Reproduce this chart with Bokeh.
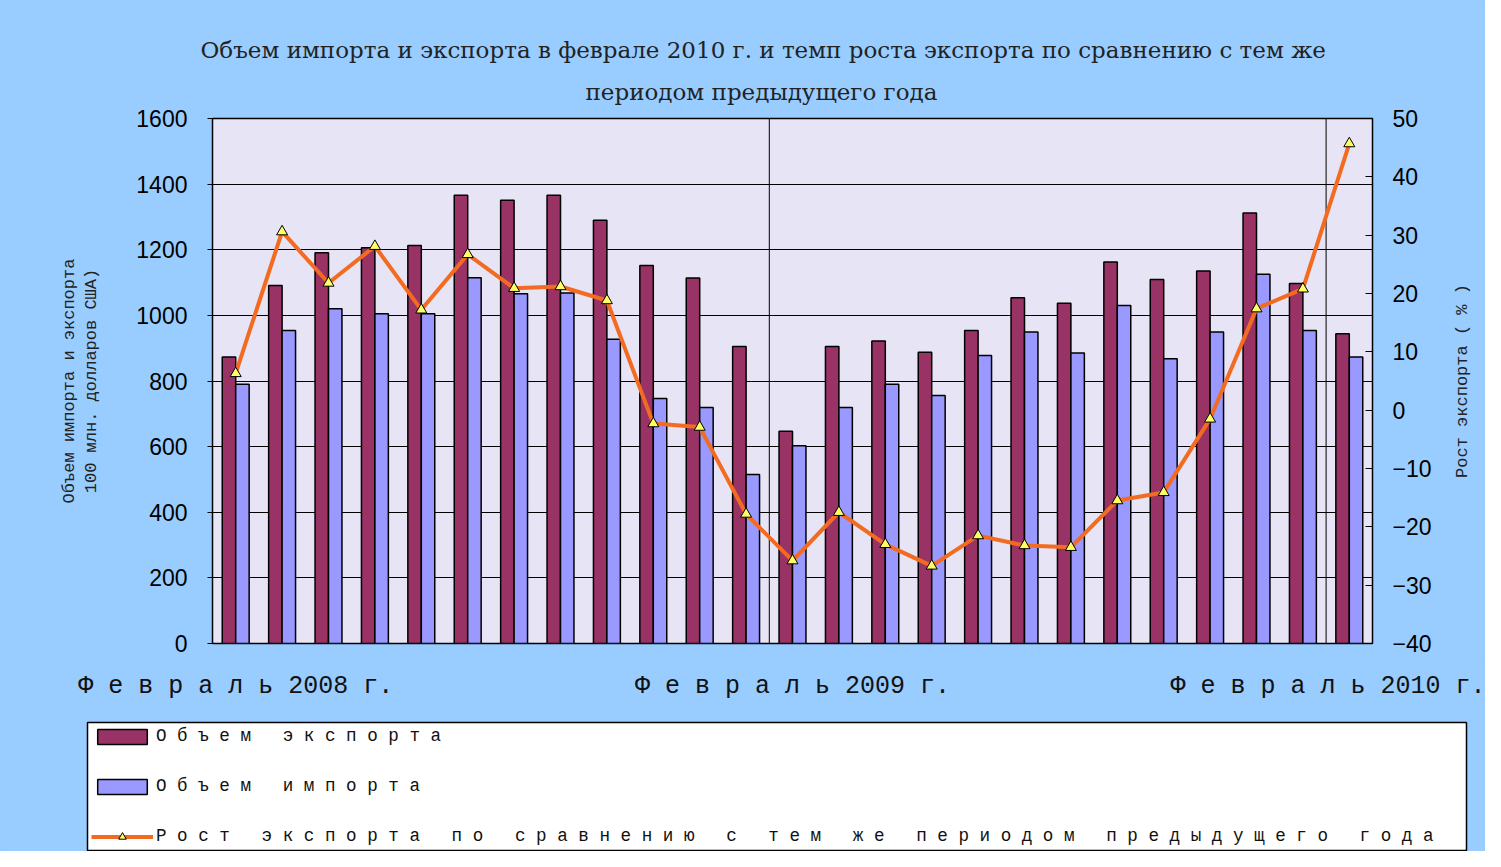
import math
from bokeh.plotting import figure
from bokeh.layouts import column, row
from bokeh.models import (ColumnDataSource, Range1d, LinearAxis, FixedTicker,
                          SingleIntervalTicker, Legend, LegendItem, Span, Title)
from bokeh.transform import dodge
from bokeh.embed import file_html
from bokeh.resources import INLINE

# ---------------- data ----------------
months = ["2008-02", "2008-03", "2008-04", "2008-05", "2008-06", "2008-07",
          "2008-08", "2008-09", "2008-10", "2008-11", "2008-12", "2009-01",
          "2009-02", "2009-03", "2009-04", "2009-05", "2009-06", "2009-07",
          "2009-08", "2009-09", "2009-10", "2009-11", "2009-12", "2010-01",
          "2010-02"]
export_vol = [873, 1091, 1191, 1206, 1213, 1366, 1351, 1366, 1290, 1152, 1114, 905,
              647, 905, 922, 888, 954, 1054, 1037, 1163, 1109, 1135, 1312, 1097, 944]
import_vol = [790, 954, 1020, 1005, 1005, 1115, 1066, 1068, 927, 747, 719, 515,
              603, 719, 790, 756, 878, 949, 885, 1030, 868, 949, 1125, 954, 873]
export_growth = [6.3, 30.6, 21.8, 28.1, 17.2, 26.7, 20.9, 21.2, 18.8, -2.3, -2.9, -17.8,
                 -25.8, -17.5, -23.0, -26.7, -21.5, -23.2, -23.5, -15.5, -14.1, -1.5,
                 17.4, 20.8, 45.7]
feb_year_labels = ["2008 г.", "2009 г.", "2010 г."]
feb_word = "Февраль"
title_lines = ["Объем импорта и экспорта в феврале 2010 г. и темп роста экспорта по сравнению с тем же",
               "периодом предыдущего года"]
left_axis_title = "Объем импорта и экспорта\n100 млн. долларов США)"
right_axis_title = "Рост экспорта ( % )"
legend_labels = ["Объем экспорта", "Объем импорта",
                 "Рост экспорта по сравнению с тем же периодом предыдущего года"]


def spaced(s):
    return "   ".join(" ".join(w) for w in s.split())


# ---------------- styles ----------------
BLUE_BG = "#99CCFF"
PLOT_BG = "#E6E4F5"
EXP_COL = "#993366"
IMP_COL = "#9999FF"
LINE_COL = "#F26B21"
MARK_COL = "#FFFF66"
MONO = "Liberation Mono"
SANS = "Liberation Sans"
SERIF = "DejaVu Serif"
BG_STYLE = {"background-color": BLUE_BG}

idx = list(range(len(months)))
src = ColumnDataSource(dict(x=idx, month=months, export=export_vol,
                            imp=import_vol, growth=export_growth))

# ---------------- main chart ----------------
p = figure(width=1445, height=657, output_backend="svg", toolbar_location=None,
           x_range=Range1d(-0.5, len(months) - 0.5), y_range=Range1d(0, 1600),
           x_axis_location=None,
           min_border_left=212, min_border_right=73, min_border_top=118,
           min_border_bottom=14, background_fill_color=PLOT_BG,
           border_fill_color=BLUE_BG, outline_line_color="black",
           outline_line_width=1.5, title_location=None)
p.extra_y_ranges = {"g": Range1d(-40, 50)}

# grid
p.xgrid.visible = False
p.ygrid.ticker = SingleIntervalTicker(interval=200)
p.ygrid.grid_line_color = "black"
p.ygrid.grid_line_width = 1

# left axis
p.yaxis.ticker = SingleIntervalTicker(interval=200)
p.yaxis.major_label_text_font = SANS
p.yaxis.major_label_text_font_size = "23px"
p.yaxis.major_label_text_color = "black"
p.yaxis.major_tick_out = 5
p.yaxis.major_tick_in = 0
p.yaxis.minor_tick_line_color = None
p.yaxis.axis_line_color = "black"
p.yaxis.major_label_standoff = 20
p.yaxis.axis_label = left_axis_title
p.yaxis.axis_label_text_font = MONO
p.yaxis.axis_label_text_font_size = "17px"
p.yaxis.axis_label_text_font_style = "normal"
p.yaxis.axis_label_text_color = "#222222"
p.yaxis.axis_label_standoff = 32

# right axis
ax2 = LinearAxis(y_range_name="g", ticker=SingleIntervalTicker(interval=10))
ax2.major_label_text_font = SANS
ax2.major_label_text_font_size = "23px"
ax2.major_label_text_color = "black"
ax2.major_tick_in = 7
ax2.major_tick_out = 0
ax2.minor_tick_line_color = None
ax2.axis_line_color = "black"
ax2.major_label_standoff = 16
p.add_layout(ax2, "right")

# year separators
feb_idx = [i for i, m in enumerate(months) if m.endswith("-02")]
for i in feb_idx[1:]:
    p.add_layout(Span(location=i - 0.5, dimension="height", line_color="black",
                      line_width=1, level="underlay"))

# bars
r_exp = p.vbar(x=dodge("x", -0.145), top="export", width=0.29, source=src,
               fill_color=EXP_COL, line_color="black", line_width=1.5)
r_imp = p.vbar(x=dodge("x", 0.145), top="imp", width=0.29, source=src,
               fill_color=IMP_COL, line_color="black", line_width=1.5)

# growth line
r_line = p.line(x="x", y="growth", source=src, y_range_name="g",
                line_color=LINE_COL, line_width=4)
r_pts = p.scatter(x="x", y="growth", source=src, y_range_name="g",
                  marker="triangle", size=11, fill_color=MARK_COL,
                  line_color="black", line_width=1)

# title (two lines, nearest-to-frame added first)
p.add_layout(Title(text=title_lines[1], align="left", offset=373, text_font=SERIF,
                   text_font_size="23px", text_font_style="normal",
                   text_color="#222222", standoff=28), "above")
p.add_layout(Title(text=title_lines[0], align="left", offset=-12, text_font=SERIF,
                   text_font_size="23px", text_font_style="normal",
                   text_color="#222222", standoff=0), "above")

# ---------------- right-hand axis title strip (reads bottom-to-top) ----------------
rt = figure(width=40, height=657, output_backend="svg", toolbar_location=None,
            x_range=Range1d(0, 1), y_range=Range1d(0, 1),
            x_axis_type=None, y_axis_type=None,
            title=right_axis_title, title_location="left",
            min_border_left=5, min_border_right=0, min_border_top=118,
            min_border_bottom=14, background_fill_color=BLUE_BG,
            border_fill_color=BLUE_BG, outline_line_color=None)
rt.xgrid.visible = False
rt.ygrid.visible = False
rt.title.align = "center"
rt.title.text_font = MONO
rt.title.text_font_size = "17px"
rt.title.text_font_style = "normal"
rt.title.text_color = "#222222"
rt.title.standoff = 10

# ---------------- February labels strip (shares the chart's x range) ----------------
xs = figure(width=1485, height=46, output_backend="svg", toolbar_location=None,
            x_range=p.x_range, y_range=Range1d(0, 1), y_axis_type=None,
            title_location=None, min_border_left=212, min_border_right=113,
            min_border_top=0, min_border_bottom=42,
            background_fill_color=BLUE_BG, border_fill_color=BLUE_BG,
            outline_line_color=None)
xs.xgrid.visible = False
xs.ygrid.visible = False
xs.xaxis.ticker = FixedTicker(ticks=feb_idx)
xs.xaxis.major_label_overrides = {i: spaced(feb_word) + " " + lab
                                  for i, lab in zip(feb_idx, feb_year_labels)}
xs.xaxis.major_label_text_font = MONO
xs.xaxis.major_label_text_font_size = "25px"
xs.xaxis.major_label_text_color = "#111111"
xs.xaxis.major_tick_line_color = None
xs.xaxis.minor_tick_line_color = None
xs.xaxis.axis_line_color = None
xs.xaxis.major_label_standoff = 6

# ---------------- legend strip below the chart ----------------
# swatch renderers reuse the chart data but lie outside this strip's ranges
leg = figure(width=1485, height=148, output_backend="svg", toolbar_location=None,
             x_range=Range1d(-100, -99), y_range=Range1d(-100, -99),
             x_axis_type=None, y_axis_type=None, title_location=None,
             min_border_left=87, min_border_right=19, min_border_top=19,
             min_border_bottom=1, background_fill_color="white",
             border_fill_color=BLUE_BG, outline_line_color="black",
             outline_line_width=1.5)
leg.xgrid.visible = False
leg.ygrid.visible = False
s_exp = leg.vbar(x="x", top="export", width=0.29, source=src,
                 fill_color=EXP_COL, line_color="black", line_width=1.5)
s_imp = leg.vbar(x="x", top="imp", width=0.29, source=src,
                 fill_color=IMP_COL, line_color="black", line_width=1.5)
s_line = leg.line(x="x", y="growth", source=src, line_color=LINE_COL, line_width=4)
s_pts = leg.scatter(x="x", y="growth", source=src, marker="triangle", size=11,
                    fill_color=MARK_COL, line_color="black", line_width=1)
legend = Legend(items=[LegendItem(label=spaced(legend_labels[0]), renderers=[s_exp]),
                       LegendItem(label=spaced(legend_labels[1]), renderers=[s_imp]),
                       LegendItem(label=spaced(legend_labels[2]), renderers=[s_line, s_pts])],
                location="top_left", orientation="vertical",
                glyph_width=62, glyph_height=19, label_height=18,
                label_text_font=MONO, label_text_font_size="17.6px",
                label_text_color="#111111",
                label_standoff=3, spacing=30, padding=13, margin=4,
                border_line_color=None, background_fill_alpha=0)
leg.add_layout(legend, "center")

layout = column(row(p, rt, spacing=0, styles=BG_STYLE),
                row(xs, styles=BG_STYLE),
                row(leg, styles=BG_STYLE),
                spacing=0, styles=BG_STYLE)
open("out.html", "w").write(file_html(layout, INLINE))
